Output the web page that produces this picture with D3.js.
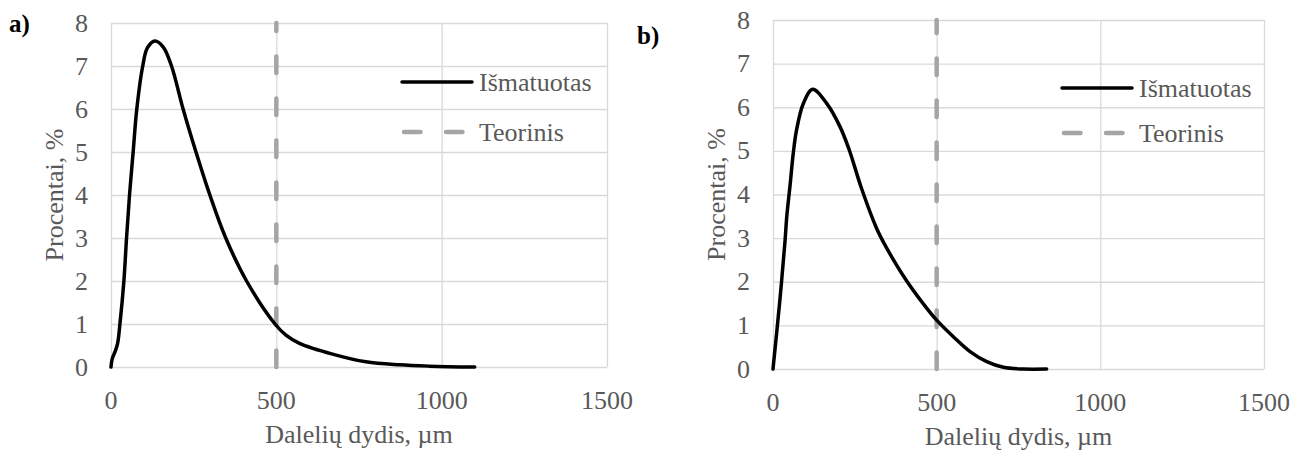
<!DOCTYPE html>
<meta charset="utf-8" />
<style>
  body {
    margin: 0;
    background: #fff;
  }
  svg text {
    font-family: "Liberation Serif", "Times New Roman", Times, "DejaVu Serif", serif;
  }
  .grid line {
    stroke: #d9d9d9;
    stroke-width: 1.3;
  }
  .grid .domain {
    display: none;
  }
  .tick-label {
    fill: #595959;
    font-size: 26px;
  }
</style>
<body>
  <div class="container"></div>

  <script src="https://d3js.org/d3.v7.min.js"></script>
  <script>
    // chart data
    const panelLabels = ["a)", "b)"];
    const seriesNames = ["Išmatuotas", "Teorinis"];
    const xTitle = "Dalelių dydis, µm";
    const yTitle = "Procentai, %";
    const xTicks = [0, 500, 1000, 1500];
    const yTicks = [0, 1, 2, 3, 4, 5, 6, 7, 8];

    // a) measured distribution
    const sizeA = [0, 4, 12, 20, 27, 39, 47, 56, 67, 78, 96, 110, 133, 158, 183, 218, 257, 299, 347, 410, 496, 529, 570, 670, 771, 872, 963, 1100];
    const pctA = [0, 0.2, 0.35, 0.55, 1.0, 2.0, 3.0, 4.0, 5.0, 6.0, 7.0, 7.42, 7.58, 7.44, 7.0, 6.0, 5.0, 4.0, 3.0, 2.0, 1.0, 0.74, 0.55, 0.3, 0.12, 0.05, 0.02, 0];

    // b) measured distribution
    const sizeB = [0, 21, 37, 42, 52, 62, 72, 93, 121, 164, 205, 233, 270, 318, 368, 410, 470, 500, 551, 602, 653, 704, 765, 836];
    const pctB = [0, 1.58, 2.96, 3.49, 4.2, 4.95, 5.48, 6.09, 6.41, 6.09, 5.55, 5.02, 4.15, 3.2, 2.5, 2.0, 1.39, 1.12, 0.74, 0.4, 0.17, 0.04, 0, 0];

    // theoretical size (vertical line)
    const theorySize = [500, 500];
    const theoryPct = [0, 8];

    const svg = d3
      .select(".container")
      .append("svg")
      .attr("width", 1295)
      .attr("height", 452);

    const panels = [
      { left: 111, right: 607, top: 23, bottom: 367, sizes: sizeA, pcts: pctA,
        label: { x: 9, y: 32 }, legend: { x: 402, y1: 82, y2: 132 } },
      { left: 773, right: 1264, top: 20, bottom: 369, sizes: sizeB, pcts: pctB,
        label: { x: 637, y: 44 }, legend: { x: 1062, y1: 88, y2: 133 } },
    ];

    panels.forEach(function (p, i) {
      const x = d3.scaleLinear().domain([0, 1500]).range([p.left, p.right]);
      const y = d3.scaleLinear().domain([0, 8]).range([p.bottom, p.top]);
      const g = svg.append("g");

      // gridlines
      g.append("g")
        .attr("class", "grid")
        .attr("transform", "translate(0," + p.bottom + ")")
        .call(d3.axisBottom(x).tickValues(xTicks).tickSize(-(p.bottom - p.top)).tickFormat(""));
      g.append("g")
        .attr("class", "grid")
        .attr("transform", "translate(" + p.left + ",0)")
        .call(d3.axisLeft(y).tickValues(yTicks).tickSize(-(p.right - p.left)).tickFormat(""));

      // tick labels
      g.selectAll(".xt")
        .data(xTicks)
        .enter()
        .append("text")
        .attr("class", "tick-label")
        .attr("x", (d) => x(d))
        .attr("y", p.bottom + 42)
        .attr("text-anchor", "middle")
        .text((d) => d);
      g.selectAll(".yt")
        .data(yTicks)
        .enter()
        .append("text")
        .attr("class", "tick-label")
        .attr("x", p.left - 23)
        .attr("y", (d) => y(d))
        .attr("dy", "0.33em")
        .attr("text-anchor", "end")
        .text((d) => d);

      // axis titles
      g.append("text")
        .attr("class", "tick-label")
        .attr("x", (p.left + p.right) / 2)
        .attr("y", p.bottom + 76)
        .attr("text-anchor", "middle")
        .text(xTitle);
      g.append("text")
        .attr("class", "tick-label")
        .attr("transform", "translate(" + (p.left - 48) + "," + (p.top + p.bottom) / 2 + ") rotate(-90)")
        .attr("text-anchor", "middle")
        .text(yTitle);

      // theoretical line
      const theory = theorySize.map((s, k) => [s, theoryPct[k]]);
      g.append("path")
        .datum(theory)
        .attr("fill", "none")
        .attr("stroke", "#a5a5a5")
        .attr("stroke-width", 4.5)
        .attr("stroke-linecap", "round")
        .attr("stroke-dasharray", "16.5,25.5")
        .attr("d", d3.line().x((d) => x(d[0])).y((d) => y(d[1])));

      // measured curve
      const measured = p.sizes.map((s, k) => [s, p.pcts[k]]);
      g.append("path")
        .datum(measured)
        .attr("fill", "none")
        .attr("stroke", "#000")
        .attr("stroke-width", 3.5)
        .attr("stroke-linejoin", "round")
        .attr("stroke-linecap", "round")
        .attr("d", d3.line().curve(d3.curveCatmullRom.alpha(0.5)).x((d) => x(d[0])).y((d) => y(d[1])));

      // legend
      const lg = p.legend;
      g.append("line")
        .attr("x1", lg.x).attr("x2", lg.x + 70)
        .attr("y1", lg.y1).attr("y2", lg.y1)
        .attr("stroke", "#000").attr("stroke-width", 3.5).attr("stroke-linecap", "round");
      g.append("line")
        .attr("x1", lg.x + 2).attr("x2", lg.x + 66)
        .attr("y1", lg.y2).attr("y2", lg.y2)
        .attr("stroke", "#a5a5a5").attr("stroke-width", 4.5)
        .attr("stroke-linecap", "round").attr("stroke-dasharray", "16.5,25.5");
      g.selectAll(".lt")
        .data(seriesNames)
        .enter()
        .append("text")
        .attr("class", "tick-label")
        .attr("x", lg.x + 77)
        .attr("y", (d, k) => (k === 0 ? lg.y1 : lg.y2))
        .attr("dy", "0.33em")
        .text((d) => d);

      // panel label
      g.append("text")
        .attr("x", p.label.x)
        .attr("y", p.label.y)
        .attr("font-size", "25px")
        .attr("font-weight", "bold")
        .attr("fill", "#000")
        .text(panelLabels[i]);
    });
  </script>
</body>
